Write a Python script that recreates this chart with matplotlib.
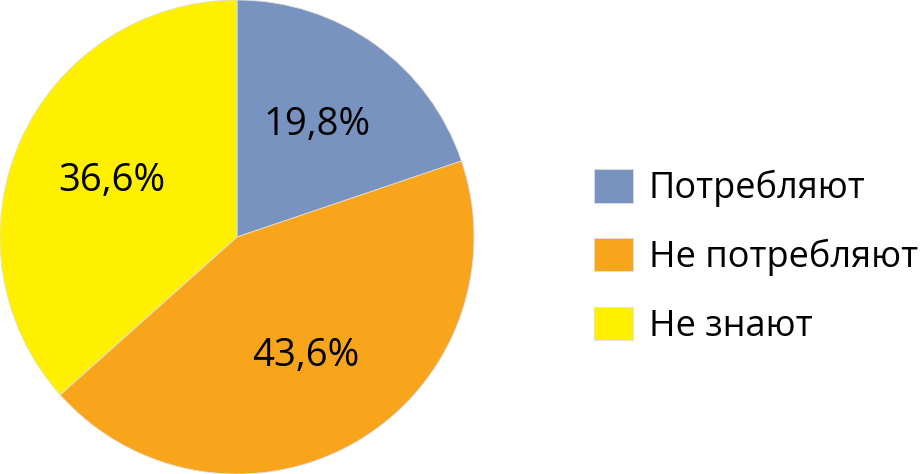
import matplotlib.pyplot as plt

labels = ["Потребляют", "Не потребляют", "Не знают"]
values = [19.8, 43.6, 36.6]
colors = ["#7893C0", "#F8A51C", "#FFF000"]

plt.rcParams["font.family"] = ["Open Sans", "DejaVu Sans"]

fig = plt.figure(figsize=(9.21, 4.74), dpi=100)
ax = fig.add_axes([0, 0, 474 / 921, 1])

wedges, texts, autotexts = ax.pie(
    values,
    colors=colors,
    startangle=90,
    counterclock=False,
    autopct=lambda p: f"{p:.1f}%".replace(".", ","),
    pctdistance=0.58,
    wedgeprops=dict(linewidth=0.6, edgecolor="#dddddd"),
    textprops=dict(fontsize=27.5, color="black"),
    radius=1.0,
)
ax.set_aspect("equal")
ax.set_xlim(-1.0, 1.0)
ax.set_ylim(-1.0, 1.0)

fig.legend(
    wedges, labels,
    loc="center left",
    bbox_to_anchor=(594 / 921, 1 - 257 / 474),
    frameon=False,
    fontsize=26,
    handlelength=1.08,
    handleheight=1.05,
    handletextpad=0.44,
    labelspacing=0.85,
    borderpad=0,
    borderaxespad=0,
)

fig.savefig("out.png", dpi=100)
